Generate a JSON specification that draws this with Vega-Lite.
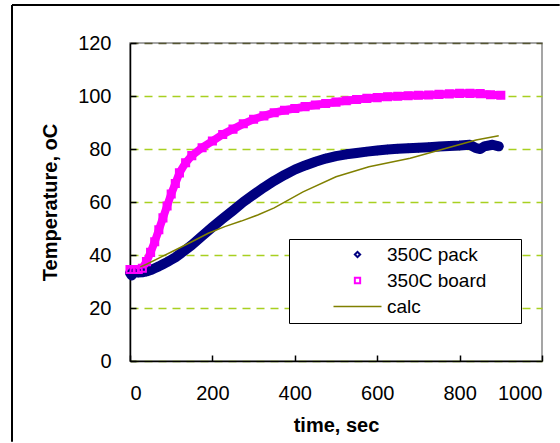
{
  "$schema": "https://vega.github.io/schema/vega-lite/v6.json",
  "width": 412,
  "height": 318,
  "autosize": "none",
  "padding": {"left": 130, "top": 43, "right": 18, "bottom": 82},
  "background": "white",
  "config": {
    "font": "Liberation Sans",
    "view": {"stroke": "#888888", "strokeWidth": 1.5},
    "axis": {
      "labelFont": "Liberation Sans",
      "labelFontSize": 20,
      "labelColor": "black",
      "titleFont": "Liberation Sans",
      "titleFontSize": 20,
      "titleFontWeight": "bold",
      "titleColor": "black",
      "domainColor": "black",
      "domainWidth": 1.5,
      "tickColor": "black",
      "tickWidth": 1.5,
      "tickSize": -6
    }
  },
  "datasets": {
    "frame": [{"x1": -286.4, "x2": 1043, "y1": 134.3, "y2": -30.5}],
    "rows": [
      {"series": "350C pack", "t": 0, "v": 33.2},
      {"series": "350C pack", "t": 4, "v": 32.3},
      {"series": "350C pack", "t": 10, "v": 33.6},
      {"series": "350C pack", "t": 20, "v": 33.4},
      {"series": "350C pack", "t": 30, "v": 33.5},
      {"series": "350C pack", "t": 40, "v": 33.8},
      {"series": "350C pack", "t": 50, "v": 34.3},
      {"series": "350C pack", "t": 60, "v": 35.0},
      {"series": "350C pack", "t": 70, "v": 35.7},
      {"series": "350C pack", "t": 80, "v": 36.5},
      {"series": "350C pack", "t": 90, "v": 37.3},
      {"series": "350C pack", "t": 100, "v": 38.2},
      {"series": "350C pack", "t": 110, "v": 39.1},
      {"series": "350C pack", "t": 125, "v": 40.8},
      {"series": "350C pack", "t": 150, "v": 43.8},
      {"series": "350C pack", "t": 175, "v": 47.2},
      {"series": "350C pack", "t": 200, "v": 50.5},
      {"series": "350C pack", "t": 225, "v": 53.7},
      {"series": "350C pack", "t": 250, "v": 56.8},
      {"series": "350C pack", "t": 275, "v": 60.0},
      {"series": "350C pack", "t": 300, "v": 62.8},
      {"series": "350C pack", "t": 325, "v": 65.5},
      {"series": "350C pack", "t": 350, "v": 68.0},
      {"series": "350C pack", "t": 375, "v": 70.2},
      {"series": "350C pack", "t": 400, "v": 72.2},
      {"series": "350C pack", "t": 425, "v": 73.8},
      {"series": "350C pack", "t": 450, "v": 75.2},
      {"series": "350C pack", "t": 475, "v": 76.4},
      {"series": "350C pack", "t": 500, "v": 77.3},
      {"series": "350C pack", "t": 525, "v": 78.0},
      {"series": "350C pack", "t": 550, "v": 78.5},
      {"series": "350C pack", "t": 575, "v": 79.0},
      {"series": "350C pack", "t": 600, "v": 79.4},
      {"series": "350C pack", "t": 625, "v": 79.8},
      {"series": "350C pack", "t": 650, "v": 80.1},
      {"series": "350C pack", "t": 675, "v": 80.3},
      {"series": "350C pack", "t": 700, "v": 80.5},
      {"series": "350C pack", "t": 725, "v": 80.7},
      {"series": "350C pack", "t": 750, "v": 80.9},
      {"series": "350C pack", "t": 775, "v": 81.1},
      {"series": "350C pack", "t": 800, "v": 81.3},
      {"series": "350C pack", "t": 825, "v": 81.6},
      {"series": "350C pack", "t": 840, "v": 80.3},
      {"series": "350C pack", "t": 850, "v": 80.0},
      {"series": "350C pack", "t": 860, "v": 81.0},
      {"series": "350C pack", "t": 880, "v": 81.6},
      {"series": "350C pack", "t": 895, "v": 81.0},
      {"series": "350C board", "t": 0, "v": 34.5},
      {"series": "350C board", "t": 10, "v": 34.5},
      {"series": "350C board", "t": 20, "v": 34.5},
      {"series": "350C board", "t": 30, "v": 35.0},
      {"series": "350C board", "t": 40, "v": 37.5},
      {"series": "350C board", "t": 50, "v": 41.0},
      {"series": "350C board", "t": 60, "v": 45.0},
      {"series": "350C board", "t": 70, "v": 49.5},
      {"series": "350C board", "t": 80, "v": 54.0},
      {"series": "350C board", "t": 90, "v": 58.5},
      {"series": "350C board", "t": 100, "v": 63.0},
      {"series": "350C board", "t": 110, "v": 67.0},
      {"series": "350C board", "t": 120, "v": 71.0},
      {"series": "350C board", "t": 135, "v": 74.8},
      {"series": "350C board", "t": 150, "v": 77.5},
      {"series": "350C board", "t": 175, "v": 80.5},
      {"series": "350C board", "t": 200, "v": 83.0},
      {"series": "350C board", "t": 225, "v": 85.5},
      {"series": "350C board", "t": 250, "v": 87.5},
      {"series": "350C board", "t": 275, "v": 89.5},
      {"series": "350C board", "t": 300, "v": 91.2},
      {"series": "350C board", "t": 325, "v": 92.5},
      {"series": "350C board", "t": 350, "v": 93.7},
      {"series": "350C board", "t": 375, "v": 94.6},
      {"series": "350C board", "t": 400, "v": 95.3},
      {"series": "350C board", "t": 425, "v": 96.0},
      {"series": "350C board", "t": 450, "v": 96.6},
      {"series": "350C board", "t": 475, "v": 97.2},
      {"series": "350C board", "t": 500, "v": 97.7},
      {"series": "350C board", "t": 525, "v": 98.2},
      {"series": "350C board", "t": 550, "v": 98.7},
      {"series": "350C board", "t": 575, "v": 99.1},
      {"series": "350C board", "t": 600, "v": 99.4},
      {"series": "350C board", "t": 625, "v": 99.7},
      {"series": "350C board", "t": 650, "v": 99.9},
      {"series": "350C board", "t": 675, "v": 100.1},
      {"series": "350C board", "t": 700, "v": 100.3},
      {"series": "350C board", "t": 725, "v": 100.4},
      {"series": "350C board", "t": 750, "v": 100.6},
      {"series": "350C board", "t": 775, "v": 100.8},
      {"series": "350C board", "t": 800, "v": 101.0},
      {"series": "350C board", "t": 825, "v": 101.0},
      {"series": "350C board", "t": 850, "v": 100.9},
      {"series": "350C board", "t": 875, "v": 100.5},
      {"series": "350C board", "t": 900, "v": 100.3},
      {"series": "calc", "t": 25, "v": 35.5},
      {"series": "calc", "t": 40, "v": 36.5},
      {"series": "calc", "t": 70, "v": 38.8},
      {"series": "calc", "t": 110, "v": 41.9},
      {"series": "calc", "t": 150, "v": 45.0},
      {"series": "calc", "t": 190, "v": 48.2},
      {"series": "calc", "t": 230, "v": 50.7},
      {"series": "calc", "t": 270, "v": 52.8},
      {"series": "calc", "t": 310, "v": 55.1},
      {"series": "calc", "t": 350, "v": 57.8},
      {"series": "calc", "t": 420, "v": 63.8},
      {"series": "calc", "t": 500, "v": 69.5},
      {"series": "calc", "t": 580, "v": 73.3},
      {"series": "calc", "t": 680, "v": 76.5},
      {"series": "calc", "t": 750, "v": 79.5},
      {"series": "calc", "t": 840, "v": 83.4},
      {"series": "calc", "t": 895, "v": 85.0}
    ]
  },
  "data": {"name": "rows"},
  "encoding": {
    "x": {
      "field": "t", "type": "quantitative",
      "scale": {"domain": [0, 1000], "nice": false},
      "axis": {"values": [0, 200, 400, 600, 800, 1000], "format": "d", "title": "time, sec", "grid": false, "labelPadding": 28, "titlePadding": 12}
    },
    "y": {
      "field": "v", "type": "quantitative",
      "scale": {"domain": [0, 120], "nice": false},
      "axis": {
        "values": [0, 20, 40, 60, 80, 100, 120],
        "title": "Temperature, oC",
        "labelPadding": 25,
        "titlePadding": 17,
        "grid": true,
        "gridDash": [8, 6],
        "gridWidth": 1.5,
        "gridColor": {"condition": {"test": "datum.value == 120", "value": "#555533"}, "value": "#A8D020"}
      }
    },
    "color": {
      "field": "series", "type": "nominal",
      "scale": {"domain": ["350C pack", "350C board", "calc"], "range": ["#000080", "#FF00FF", "#808000"]},
      "legend": {
        "orient": "none",
        "legendX": 159,
        "legendY": 196,
        "title": null,
        "fillColor": "white",
        "strokeColor": "black",
        "padding": 6,
        "labelFont": "Liberation Sans",
        "labelFontSize": 19,
        "labelColor": "black",
        "labelLimit": 400,
        "rowPadding": 6,
        "symbolOffset": 53,
        "labelOffset": 20,
        "labelExpr": "datum.label + '\u2800\u2800'",
        "encode": {
          "symbols": {"update": {"size": {"signal": "datum.value === 'calc' ? 2304 : 28"}, "strokeWidth": {"signal": "datum.value === 'calc' ? 1.5 : 2"}}}
        }
      }
    },
    "shape": {
      "field": "series", "type": "nominal",
      "scale": {"domain": ["350C pack", "350C board", "calc"], "range": ["diamond", "square", "stroke"]},
      "legend": null
    }
  },
  "layer": [
    {
      "data": {"name": "frame"},
      "mark": {"type": "rule", "stroke": "black", "strokeWidth": 2, "clip": false},
      "encoding": {
        "x": {"field": "x1", "type": "quantitative"},
        "y": {"field": "y1", "type": "quantitative"},
        "y2": {"field": "y2"},
        "color": null,
        "shape": null
      }
    },
    {
      "data": {"name": "frame"},
      "mark": {"type": "rule", "stroke": "black", "strokeWidth": 2, "clip": false},
      "encoding": {
        "x": {"field": "x1", "type": "quantitative"},
        "x2": {"field": "x2"},
        "y": {"field": "y1", "type": "quantitative"},
        "color": null,
        "shape": null
      }
    },
    {
      "transform": [{"filter": "datum.series === '350C pack'"}],
      "mark": {"type": "line", "strokeWidth": 10, "strokeCap": "round", "strokeJoin": "round"},
      "encoding": {"shape": null}
    },
    {
      "transform": [{"filter": "datum.series === '350C board'"}],
      "mark": {"type": "line", "strokeWidth": 8, "strokeCap": "round", "strokeJoin": "round"},
      "encoding": {"shape": null}
    },
    {
      "transform": [{"filter": "datum.series !== 'calc'"}],
      "mark": {"type": "point", "filled": false, "size": 50, "strokeWidth": 2, "opacity": 1}
    },
    {
      "transform": [{"filter": "datum.series === 'calc'"}],
      "mark": {"type": "line", "strokeWidth": 1.5},
      "encoding": {"shape": null}
    }
  ]
}
